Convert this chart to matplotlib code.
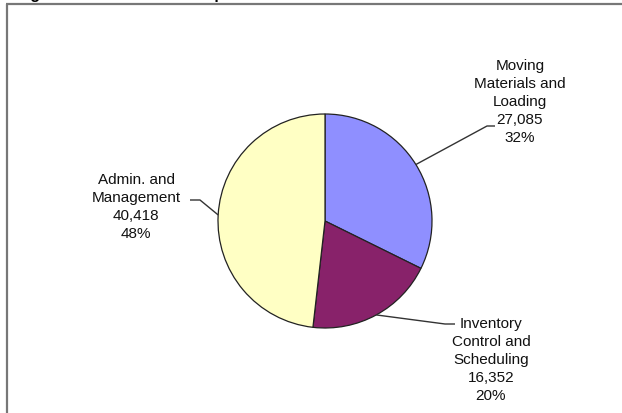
import numpy as np
import matplotlib
matplotlib.use('Agg')
from matplotlib import pyplot as plt

# Labor hours by activity
categories = ['Moving\nMaterials and\nLoading',
              'Inventory\nControl and\nScheduling',
              'Admin. and\nManagement']
hours = [27085, 16352, 40418]
colors = ['#8f8fff', '#88226a', '#ffffc4']

plt.rcParams['font.family'] = ['Liberation Sans', 'DejaVu Sans']

W, H = 622, 414
fig = plt.figure(figsize=(W / 100, H / 100), dpi=100)
ax = fig.add_axes([0, 0, 1, 1])

# Pie in pixel-like coordinates (y measured from the bottom)
cx, cy, r = 325, H - 222, 107
wedges, _ = ax.pie(hours, colors=colors, startangle=90, counterclock=False,
                   center=(cx, cy), radius=r, frame=True,
                   wedgeprops=dict(edgecolor='#222222', linewidth=0.9))
ax.set_xlim(0, W)
ax.set_ylim(0, H)
ax.set_aspect('equal')
ax.axis('off')

total = sum(hours)

# elbow point and text anchor for each label (pixel coords from top)
elbows = [(487, 127), (445, 325), (200, 201)]
ends = [(495, 127), (455, 325), (190, 201)]
text_pos = [(520, 102), (491, 360), (136, 207)]

for w, val, name, e, en, tp in zip(wedges, hours, categories, elbows, ends, text_pos):
    mid = np.deg2rad((w.theta1 + w.theta2) / 2)
    px, py = cx + r * np.cos(mid), cy + r * np.sin(mid)
    ax.plot([px, e[0], en[0]], [py, H - e[1], H - en[1]],
            color='#333333', lw=1.0, solid_capstyle='butt')
    pct = round(100 * val / total)
    label = f'{name}\n{val:,}\n{pct}%'
    ax.text(tp[0], H - tp[1], label, ha='center', va='center',
            fontsize=11, color='#111111', linespacing=1.36)

# Frame around the chart area (left and top edges only show)
ax.plot([7, 7], [0, H - 5], color='#777777', lw=1.6, solid_capstyle='butt')
ax.plot([6, W], [H - 5, H - 5], color='#777777', lw=1.6, solid_capstyle='butt')

# Heading sitting above the chart, mostly out of view
fig.text(16 / W, 1 + 0.5 / H, 'Figure 3: Warehouse Components',
         fontsize=11.5, fontweight='bold', ha='left', va='baseline')

fig.savefig('out.png', dpi=100)
